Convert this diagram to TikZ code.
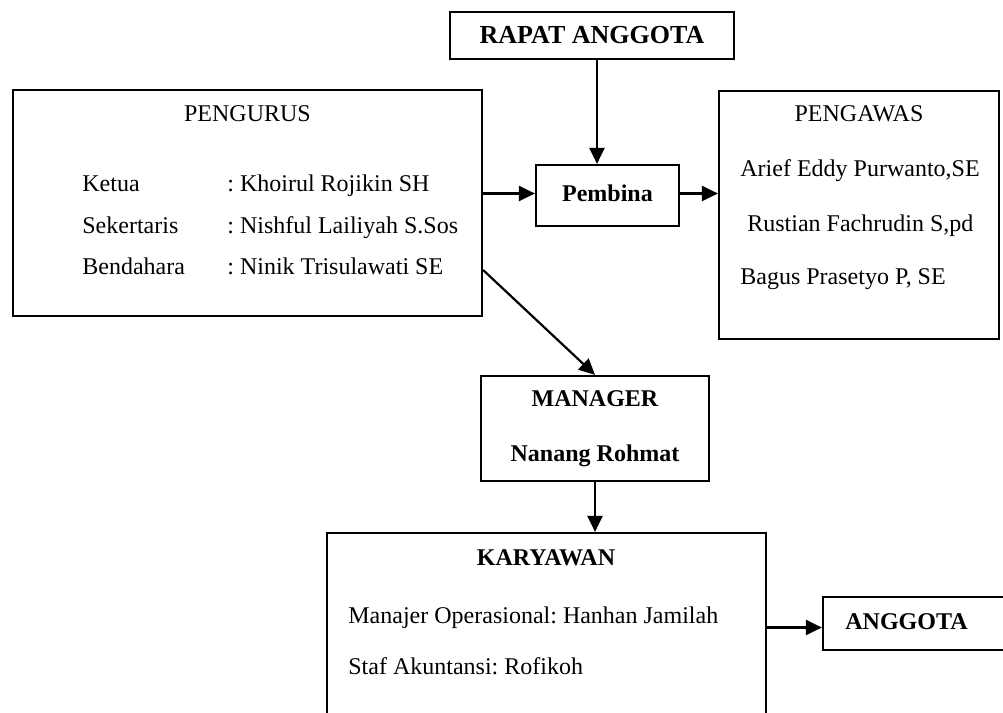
\documentclass[tikz,border=0pt]{standalone}
\usepackage{fontspec}
\setmainfont{Liberation Serif}
\usetikzlibrary{arrows.meta}
\frenchspacing

\begin{document}
\begin{tikzpicture}[x=0.5pt, y=-0.5pt,
    box/.style={rectangle, draw, line width=1.1pt, inner sep=0pt},
    txt/.style={font=\fontsize{12}{14}\selectfont, inner sep=0pt,
                text height=8.5pt, text depth=2.5pt},
    ttl/.style={txt, font=\fontsize{12}{14}\selectfont\bfseries},
    arr/.style={-{Triangle[length=8pt, width=7.5pt]}, line width=1.1pt}
  ]
  \useasboundingbox (0,0) rectangle (1003,713);
  \clip (0,0) rectangle (1003,713);

  % top
  \node[box, minimum width=142pt, minimum height=23.5pt,
        font=\fontsize{13}{15}\selectfont\bfseries] (rapat) at (592,35.5)
        {RAPAT ANGGOTA};
  \node[box, ttl, minimum width=71.5pt, minimum height=30.5pt] (pembina) at (607.5,195.5)
        {Pembina};

  % Pengurus
  \node[box, minimum width=234.5pt, minimum height=113pt] (pengurus) at (247.5,203) {};
  \node[txt] (pengurusT) at (247.5,115) {PENGURUS};
  \foreach \y/\jab/\nama [count=\i] in {185/Ketua/Khoirul Rojikin SH,
      227/Sekertaris/Nishful Lailiyah S.Sos, 268/Bendahara/Ninik Trisulawati SE} {
    \node[txt, anchor=west] (jab\i) at (82,\y) {\jab};
    \node[txt, anchor=west] (nama\i) at (227,\y) {: \nama};
  }

  % Pengawas
  \node[box, minimum width=140pt, minimum height=124pt] (pengawas) at (859,215) {};
  \node[txt] (pengawasT) at (859,115) {PENGAWAS};
  \node[txt, anchor=west] (pw1) at (740,170) {Arief Eddy Purwanto,SE};
  \node[txt, anchor=west] (pw2) at (747,225) {Rustian Fachrudin S,pd};
  \node[txt, anchor=west] (pw3) at (740,278) {Bagus Prasetyo P, SE};

  % Manager
  \node[box, minimum width=114pt, minimum height=52.5pt, align=center,
        font=\fontsize{12}{14}\selectfont\bfseries] (manager) at (595,428.5)
        {MANAGER\\[13.5pt]Nanang Rohmat};

  % Karyawan
  \node[box, minimum width=219.5pt, minimum height=120pt] (karyawan) at (546.5,653) {};
  \node[ttl] (karyawanT) at (546,559) {KARYAWAN};
  \node[txt, anchor=west] (kr1) at (348,617) {Manajer Operasional: Hanhan Jamilah};
  \node[txt, anchor=west] (kr2) at (348,668) {Staf Akuntansi: Rofikoh};

  \node[box, minimum width=110pt, minimum height=26.5pt] (anggota) at (933,623.5) {};
  \node[ttl, anchor=west] (anggotaT) at (845,623) {ANGGOTA};

  % arrows
  \draw[arr] ([xshift=2.5pt]rapat.south) -- ([xshift=2.5pt]rapat.south |- pembina.north);
  \draw[arr] ([yshift=1pt]pembina.west -| pengurus.east) -- ([yshift=1pt]pembina.west);
  \draw[arr] ([yshift=1pt]pembina.east) -- ([yshift=1pt]pembina.east -| pengawas.west);
  \draw[arr] ([yshift=-33.5pt]pengurus.east) -- (manager.north);
  \draw[arr] (manager.south) -- (manager.south |- karyawan.north);
  \draw[arr] ([yshift=-2pt]anggota.west -| karyawan.east) -- ([yshift=-2pt]anggota.west);
\end{tikzpicture}
\end{document}
